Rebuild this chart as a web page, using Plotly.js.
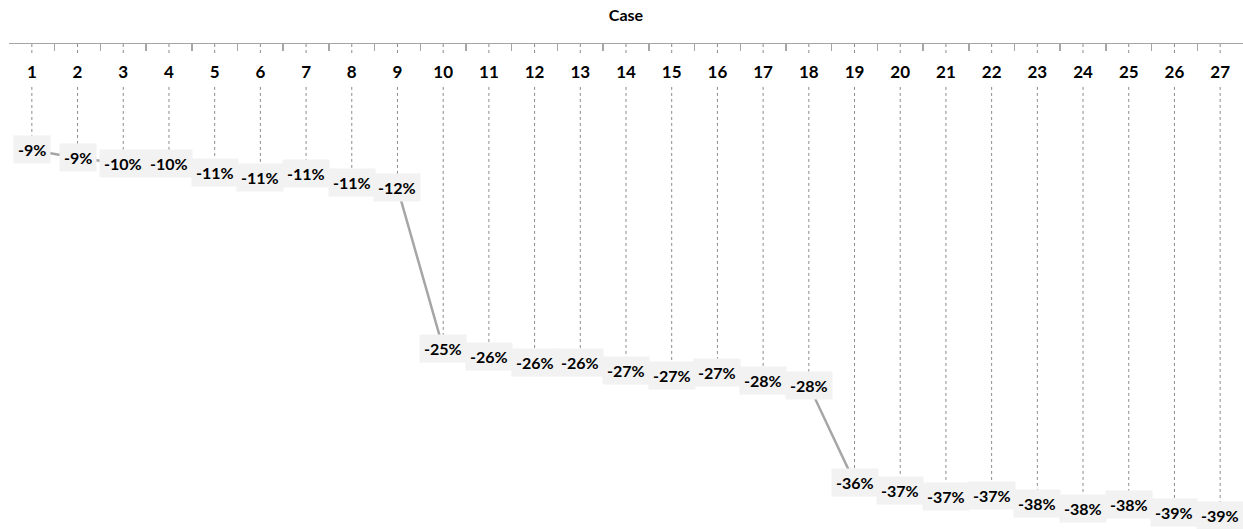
<!DOCTYPE html>
<html>
<head>
<meta charset="utf-8">
<script src="https://cdn.plot.ly/plotly-3.0.1.min.js"></script>
<style>html,body{margin:0;padding:0;background:#fff;}#chart{width:1243px;height:529px;}</style>
</head>
<body>
<div id="chart"></div>
<script>
// Data
var cases = ["1","2","3","4","5","6","7","8","9","10","11","12","13","14","15","16","17","18","19","20","21","22","23","24","25","26","27"];
var changeValues = [-0.0876,-0.0942,-0.0988,-0.0988,-0.1062,-0.1107,-0.1070,-0.1145,-0.1190,
  -0.2517,-0.2583,-0.2636,-0.2636,-0.2698,-0.2740,-0.2715,-0.2780,-0.2822,
  -0.3624,-0.3690,-0.3740,-0.3731,-0.3798,-0.3839,-0.3806,-0.3876,-0.3900];
var axisTitle = "Case";

// Styling constants (not data)
var FONT = "Lato, 'Open Sans', sans-serif";
var GAP_TOP = -0.008;   // where drop line disappears behind tick labels
var GAP_BOTTOM = -0.0355; // where it reappears

// Drop lines from category axis (0) to each point, broken behind the tick labels
var dx = [], dy = [];
cases.forEach(function(c, i){
  var v = changeValues[i];
  dx.push(c, c, null, c, c, null);
  dy.push(0, GAP_TOP, null, GAP_BOTTOM, v, null);
});

var dropTrace = {
  x: dx, y: dy, type: "scatter", mode: "lines",
  line: {color: "#8c8c8c", width: 1, dash: "3px,3px"},
  hoverinfo: "skip", showlegend: false, connectgaps: false
};
var lineTrace = {
  x: cases, y: changeValues, type: "scatter", mode: "lines",
  line: {color: "#a6a6a6", width: 2.5},
  showlegend: false
};

// annotation x on a category axis: use the category index
var annotations = cases.map(function(c, i){
  return {
    x: i, y: changeValues[i], xref: "x", yref: "y",
    text: Math.round(changeValues[i]*100) + "%",
    showarrow: false,
    font: {family: FONT, size: 16, color: "#000", weight: "bold"},
    bgcolor: "#f2f2f2", borderpad: 4
  };
});

var layout = {
  width: 1243, height: 529,
  margin: {l: 9, r: 0, t: 44, b: 0},
  paper_bgcolor: "#fff", plot_bgcolor: "#fff",
  showlegend: false,
  title: {
    text: axisTitle, xref: "paper", x: 0.5, xanchor: "center",
    yref: "container", y: 1 - 15/529, yanchor: "middle",
    font: {family: FONT, size: 16, color: "#000", weight: "bold"}
  },
  xaxis: {
    type: "category", side: "top",
    categoryorder: "array", categoryarray: cases,
    range: [-0.5, cases.length - 0.5],
    showline: true, linecolor: "#a6a6a6", linewidth: 1.5,
    ticks: "inside", ticklen: 7, tickcolor: "#a6a6a6", tickwidth: 1.5,
    tickson: "boundaries",
    ticklabelposition: "inside",
    ticklabelstandoff: 16,
    tickfont: {family: FONT, size: 17, color: "#000", weight: "bold"},
    showgrid: false, zeroline: false, fixedrange: true
  },
  yaxis: {
    range: [-0.401, 0],
    visible: false, showgrid: false, zeroline: false, fixedrange: true
  },
  annotations: annotations
};

Plotly.newPlot("chart", [dropTrace, lineTrace], layout, {displayModeBar: false, staticPlot: true});
</script>
</body>
</html>
